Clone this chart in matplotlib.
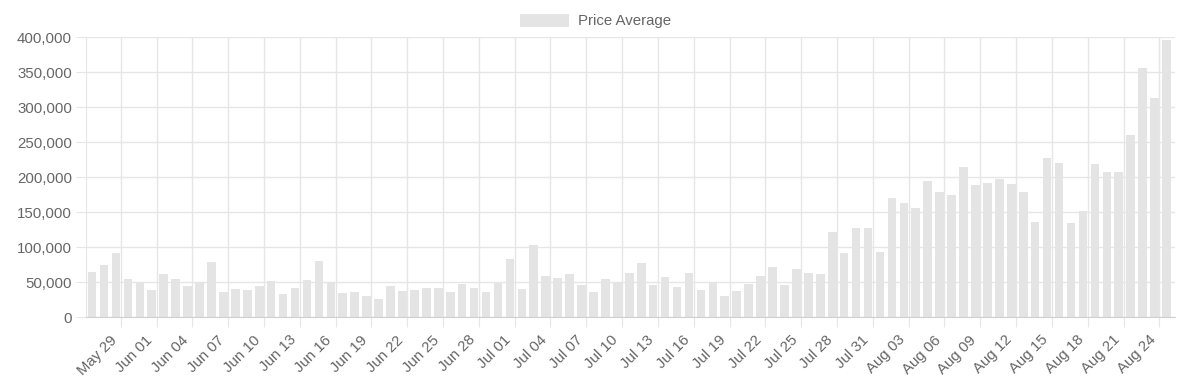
import datetime as dt
import matplotlib
matplotlib.use("Agg")
from matplotlib import pyplot as plt
import matplotlib.dates as mdates
import matplotlib.ticker as mticker
import matplotlib.transforms as mtransforms

# daily average price, May 27 .. Aug 25
start = dt.date(2019, 5, 27)
prices = [
    63600, 74600, 90900, 53600, 48300, 38800, 60800, 54500, 44500, 50200,
    78500, 36400, 40700, 38800, 44500, 51700, 33500, 41600, 52600, 79900,
    49800, 34900, 35900, 30100, 25800, 45000, 37800, 38800, 42100, 42100,
    35400, 47400, 41600, 36400, 48300, 83300, 39700, 103300, 58900, 56000,
    61200, 45500, 35900, 55000, 50700, 62700, 76600, 46400, 57400, 43500,
    62200, 38300, 50700, 30600, 36800, 47800, 58400, 71300, 45900, 68400,
    62200, 61200, 121000, 91200, 127700, 126800, 93500, 170000, 163300, 155700,
    194700, 178500, 173800, 214600, 188500, 190900, 196600, 190400, 178100, 135300,
    226500, 219400, 133900, 151500, 218400, 207500, 207500, 259700, 355600, 313400,
    396000,
]
dates = [start + dt.timedelta(days=i) for i in range(len(prices))]

plt.rcParams['font.family'] = ['Liberation Sans', 'DejaVu Sans']
grid_c = "#e6e6e6"
text_c = "#666666"
fs = 10.8

fig = plt.figure(figsize=(11.86, 3.92), dpi=100)
ax = fig.add_axes([0.0725, 0.1913, 0.9182, 0.7143])

x = [mdates.date2num(d) - 0.4 for d in dates]
ax.bar(x, prices, width=0.72, color="#e4e4e4", label="Price Average", zorder=2)

x0 = mdates.date2num(dt.date(2019, 5, 29))
ax.set_xlim(x0 - 2.91, x0 + 87 + 1.31)
ax.set_ylim(0, 400000)

ticks = [x0 + 3 * i for i in range(30)]
ax.set_xticks(ticks)
ax.xaxis.set_major_formatter(mdates.DateFormatter("%b %d"))
ax.yaxis.set_major_locator(mticker.MultipleLocator(50000))
ax.yaxis.set_major_formatter(mticker.FuncFormatter(lambda v, p: f"{int(v):,}"))

ax.grid(True, color=grid_c, linewidth=1, zorder=0)
for s in ["top", "right"]:
    ax.spines[s].set_visible(False)
ax.spines["left"].set_color(grid_c)
ax.spines["bottom"].set_color("#d0d0d0")
ax.tick_params(axis="both", length=7, color=grid_c, labelcolor=text_c,
               labelsize=fs, pad=3)
shift = mtransforms.ScaledTranslation(-11 / 100, -2 / 100, fig.dpi_scale_trans)
for lab in ax.get_xticklabels():
    lab.set_rotation(45)
    lab.set_ha("right")
    lab.set_rotation_mode("anchor")
    lab.set_transform(lab.get_transform() + shift)

fig.legend(loc="upper center", bbox_to_anchor=(0.502, 1.0), frameon=False,
           fontsize=fs, handlelength=3.3, handleheight=1.0,
           handletextpad=0.6, labelcolor=text_c)

fig.savefig("out.png", dpi=100)
